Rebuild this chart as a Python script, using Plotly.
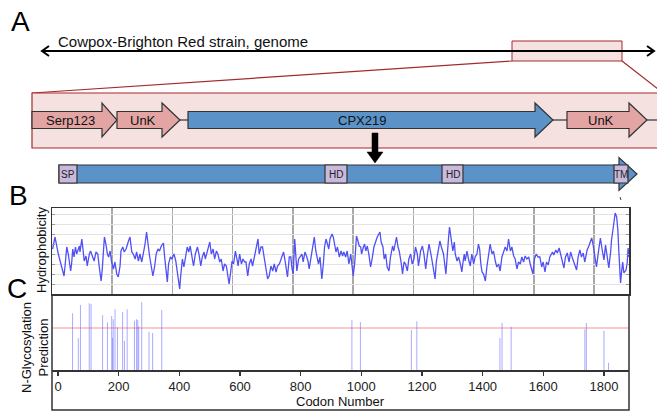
import plotly.graph_objects as go

W, H = 657, 412

# ---------------- Panel B: hydrophobicity profile ----------------
hydro_codon = [
    2, 10, 21, 27, 35, 40, 43, 46, 49, 54, 58, 62, 65, 69, 73, 78, 82, 88, 91, 93,
    99, 102, 107, 113, 117, 124, 128, 135, 140, 146, 152, 157, 163, 167, 171, 174, 179, 184, 188, 193,
    198, 204, 209, 215, 220, 226, 229, 235, 240, 246, 254, 259, 265, 270, 276, 281, 287, 292, 298, 303,
    309, 314,
    319, 324, 330, 335, 341, 346, 352, 357, 363, 370, 374, 380, 383, 387, 393, 398, 405, 411, 416, 424,
    427, 433, 438, 444, 449, 454, 459, 466, 470, 476, 483, 488, 494, 499, 505, 509, 515, 521, 524, 529,
    535, 540, 546, 551, 557, 562, 568, 573, 579, 588, 593, 598, 603, 609, 614, 618, 623, 629, 634, 640,
    644, 650, 655, 661, 666, 672, 677, 684, 688, 694, 699, 705, 710, 716, 721, 727, 733, 738, 744, 749,
    755, 764, 769, 774, 777, 782, 788, 793, 797, 801, 806, 810, 813, 819, 824, 830, 834, 840, 845, 850,
    854, 860, 865, 871, 876, 882, 885, 890, 893, 896, 901, 905, 910, 915, 919, 923, 930, 934, 938, 943,
    948, 954, 960, 965,
    969, 975, 980, 986, 992, 997, 1000, 1005, 1008, 1011, 1016, 1020, 1025, 1028, 1034, 1038, 1042, 1047, 1052, 1058,
    1064, 1069, 1080, 1089, 1093, 1099, 1103, 1108, 1113, 1119, 1124, 1131, 1135, 1144, 1149, 1153, 1160, 1164, 1169, 1174,
    1180, 1185, 1191, 1196, 1202, 1207, 1213, 1217, 1224, 1230, 1235, 1241, 1246, 1252, 1260, 1265, 1272, 1276, 1282, 1288,
    1293,
    1295, 1300, 1308, 1311, 1317, 1320, 1325, 1328, 1331, 1336, 1339, 1345, 1350, 1356, 1361, 1364, 1369, 1372, 1378, 1383,
    1389, 1394, 1400, 1405, 1411, 1416, 1420, 1424, 1428, 1433, 1439, 1444, 1450, 1455, 1461, 1466, 1472, 1477, 1483, 1488,
    1494, 1500, 1505, 1511, 1516, 1522, 1527, 1533, 1538, 1544, 1549, 1555, 1560, 1566, 1571, 1577, 1583, 1588, 1594, 1597,
    1602, 1608, 1614,
    1620, 1626, 1631, 1637, 1642, 1648, 1653, 1662, 1666, 1673, 1678, 1684, 1689, 1694, 1700, 1705, 1711, 1717, 1722, 1727,
    1733, 1742, 1747, 1753, 1758, 1764, 1769, 1777, 1784, 1792, 1797, 1803, 1808, 1814, 1821, 1827, 1833, 1838, 1844, 1849,
    1855, 1858, 1864, 1870, 1875, 1879, 1882, 1886, 1888, 1891, 1895, 1899, 1906, 1910, 1913, 1916,
]
hydro_value = [
    0.5, 1.7, 0.0, -0.8, -1.7, -2.2, -1.3, -0.3, 0.7, 0.0, -0.8, -1.7, -1.0, 0.5, -0.3, 0.7, 0.0, 0.7, 0.8, 0.2,
    1.5, 0.7, -0.7, -0.2, -1.2, 0.0, 0.3, -0.3, -0.7, 0.2, 0.0, -1.3, -2.7, -1.5, 0.7, 1.7, 1.0, 0.0, -0.3, 0.3,
    -0.8, -1.5, -0.8, -2.0, -2.3, -1.2, 0.3, 0.7, 0.2, 0.5, 1.3, 1.7, 0.2, 0.0, -0.5, 0.2, -0.7, 0.0, -0.8, 0.0,
    1.0, 2.2,
    0.7, -0.2, -1.3, -2.2, -1.2, 0.0, 0.5, 0.3, 0.8, 1.1, -0.3, -1.7, -2.8, -1.0, -0.3, -0.5, 0.0, -0.7, -1.7, -3.5,
    -2.3, -0.5, -1.3, 0.0, 0.7, 0.2, 0.8, -0.5, -1.2, 0.0, 0.7, 0.0, -1.2, -0.3, 0.2, -0.5, 0.3, 1.0, 1.2, 0.0,
    0.5, -0.5, 0.3, 0.0, -0.8, -0.5, -1.7, -1.0, -1.2, -3.0, -1.5, -0.7, -1.0, 0.3, -0.5, -1.2, 0.0, -1.0, -0.5, -0.8,
    -0.8, -2.2, -1.0, -0.5, -1.2, -0.3, 0.3, 1.5, 0.0, 0.7, 0.7, -0.5, -1.3, -2.5, -2.2, -1.2, -1.7, -1.0, -1.8, -1.2,
    -1.0, -0.3, 0.2, -0.7, -1.5, -2.3, -0.3, -0.3, -1.5, -2.0, 1.5, -0.3, -1.7, -0.5, -0.3, 0.0, -0.8, 0.2, -0.2, -0.7,
    -1.5, -0.3, 0.7, 1.7, 0.3, -0.5, -1.0, -0.3, -2.0, -2.5, -1.0, 0.7, 1.5, 1.0, 0.5, 1.5, 2.0, 1.7, 1.0, 0.2,
    0.7, -0.3, 0.3, -0.2,
    0.2, -0.3, 0.3, -1.0, 0.0, -1.3, -2.2, -1.0, 0.7, 1.8, 1.3, 0.8, 0.7, 0.0, 0.7, 1.0, 0.3, 0.8, 0.0, -1.3,
    -0.3, 0.7, 1.7, 2.2, 1.2, 0.7, -0.5, 0.0, -1.3, -1.7, -0.3, 0.8, 0.3, 1.7, 0.7, 0.3, -1.0, -2.0, -0.8, -1.0,
    -1.7, -0.5, 0.0, -1.0, -0.5, 0.7, 0.0, -1.2, 0.3, 0.8, 0.0, -1.5, -0.2, 1.0, -0.3, -1.3, -2.5, -0.8, 0.3, 1.3,
    0.7,
    0.5, 0.0, -2.0, -0.3, 1.7, 2.7, 1.7, 1.0, 0.3, 1.2, 0.0, -0.7, -0.3, -1.0, -1.8, -1.0, 0.0, -0.7, 0.3, -0.5,
    -1.2, 0.0, -1.0, -0.3, 0.0, 1.0, 0.5, -1.0, -1.8, -2.0, -2.7, -1.3, 0.0, 1.0, 0.0, 0.3, -0.7, -1.3, -1.0, -1.7,
    -0.3, 0.3, 0.7, 0.3, 1.5, 0.3, 0.7, -0.2, -0.5, -1.5, -0.8, -1.0, -0.3, -0.8, -0.2, -0.5, -0.3, -1.0, -1.7, -2.0,
    -0.5, 0.0, -0.3,
    -0.3, -1.3, -0.8, -1.8, -0.8, -1.1, -0.3, 0.2, -0.1, 0.4, 0.1, 0.6, -0.1, -0.8, -1.4, -0.3, 0.1, -0.8, 0.2, -0.3,
    -0.9, -1.6, -0.3, 0.4, -0.3, 0.1, -0.8, 0.4, 0.9, 1.6, 0.9, -0.1, -1.3, 0.1, 1.6, 0.4, -0.6, 0.9, -0.3, -1.4,
    0.2, 1.4, 2.7, 4.1, 3.7, 2.4, 0.4, -1.6, -2.9, -1.9, -0.8, -1.9, -1.6, -0.9, 0.6, -0.3,
]

# ---------------- Panel C: N-glycosylation prediction ----------------
glyc_codon = [48, 67, 74, 103, 109, 147, 163, 177, 180, 182, 188, 196, 213, 219, 228, 252, 259, 263, 266,
              276, 300, 312, 342, 969, 997, 1165, 1183, 1457, 1464, 1494, 1737, 1742, 1800, 1815]
glyc_score = [0.675, 0.377, 0.774, 0.794, 0.786, 0.651, 0.567, 0.643, 0.385, 0.603, 0.722, 0.508, 0.69, 0.349,
              0.722, 0.587, 0.603, 0.595, 0.52, 0.806, 0.456, 0.44, 0.714, 0.595, 0.571, 0.476, 0.58, 0.381,
              0.56, 0.516, 0.484, 0.56, 0.468, 0.087]
glyc_threshold = 0.5
codon_ticks = [0, 200, 400, 600, 800, 1000, 1200, 1400, 1600, 1800]

# ---------------- Panel A: schematic labels ----------------
genome_label = "Cowpox-Brighton Red strain, genome"
gene_names = ["Serp123", "UnK", "CPX219", "UnK"]
domain_names = ["SP", "HD", "HD", "TM"]
panel_letters = ["A", "B", "C"]

# schematic layout (pixel space of the figure)
gene_left = [32, 117, 188, 567]
gene_right = [117, 180, 553, 647]
gene_fill = ["#e3a5a3", "#e3a5a3", "#5b93c8", "#e3a5a3"]
domain_left = [59, 325, 442, 614]
domain_right = [77, 347, 463, 628]

FONT = "Liberation Sans, Arial, Helvetica, sans-serif"
PINK_BOX = "#f6e1e1"
DARK_RED = "#a52a2a"
EDGE = "#333333"
LAVENDER = "#c9b9dc"
BLUE = "#5b93c8"


def X(p):
    return p / W


def Y(p):
    return 1 - p / H


def path(points, close=True):
    s = "M " + " L ".join(f"{X(a):.5f},{Y(b):.5f}" for a, b in points)
    return s + (" Z" if close else "")


def arrow_pts(x0, x1, yc, bh, hh, hl):
    xh = x1 - hl
    return [(x0, yc - bh), (xh, yc - bh), (xh, yc - hh), (x1, yc), (xh, yc + hh), (xh, yc + bh), (x0, yc + bh)]


shapes = []
annotations = []

# genome overview box + line
shapes.append(dict(type="rect", xref="paper", yref="paper", x0=X(512), x1=X(622), y0=Y(61), y1=Y(41),
                   fillcolor=PINK_BOX, line=dict(color=DARK_RED, width=1), layer="above"))
shapes.append(dict(type="line", xref="paper", yref="paper", x0=X(42), x1=X(654), y0=Y(51), y1=Y(51),
                   line=dict(color="black", width=2), layer="above"))
shapes.append(dict(type="path", xref="paper", yref="paper", path=path([(49, 46), (42, 51), (49, 56)], False),
                   line=dict(color="black", width=2), layer="above"))
shapes.append(dict(type="path", xref="paper", yref="paper", path=path([(647, 46), (654, 51), (647, 56)], False),
                   line=dict(color="black", width=2), layer="above"))
annotations.append(dict(text=genome_label, xref="paper", yref="paper", x=X(56), y=Y(42), xanchor="left",
                        yanchor="middle", showarrow=False, font=dict(family=FONT, size=15, color="#111")))

# zoom lines
shapes.append(dict(type="line", xref="paper", yref="paper", x0=X(512), y0=Y(61), x1=X(32), y1=Y(93),
                   line=dict(color=DARK_RED, width=1.2), layer="above"))
shapes.append(dict(type="line", xref="paper", yref="paper", x0=X(622), y0=Y(61), x1=X(663), y1=Y(93),
                   line=dict(color=DARK_RED, width=1.2), layer="above"))

# zoomed region box
shapes.append(dict(type="rect", xref="paper", yref="paper", x0=X(32), x1=X(664), y0=Y(148), y1=Y(93),
                   fillcolor=PINK_BOX, line=dict(color=DARK_RED, width=1.2), layer="above"))

# connectors between genes
for a, b in [(180, 188), (553, 567), (647, 660)]:
    shapes.append(dict(type="line", xref="paper", yref="paper", x0=X(a), x1=X(b), y0=Y(120), y1=Y(120),
                       line=dict(color=EDGE, width=1.2), layer="above"))

# genes
for name, l, r, f in zip(gene_names, gene_left, gene_right, gene_fill):
    hl = 15 if name == "Serp123" else 18
    shapes.append(dict(type="path", xref="paper", yref="paper", path=path(arrow_pts(l, r, 120, 8.5, 17, hl)),
                       fillcolor=f, line=dict(color=EDGE, width=1.2), layer="above"))
    cx = (l + r - hl) / 2 + (3 if name != "CPX219" else 0)
    annotations.append(dict(text=name, xref="paper", yref="paper", x=X(cx), y=Y(121), xanchor="center",
                            yanchor="middle", showarrow=False, font=dict(family=FONT, size=13, color="#111")))

# down arrow
shapes.append(dict(type="path", xref="paper", yref="paper",
                   path=path([(372, 133), (378, 133), (378, 152), (383, 152), (375, 163), (367, 152), (372, 152)]),
                   fillcolor="black", line=dict(color="black", width=0.5), layer="above"))

# protein bar
shapes.append(dict(type="path", xref="paper", yref="paper", path=path(arrow_pts(59, 637, 174, 9, 16.5, 18)),
                   fillcolor=BLUE, line=dict(color=EDGE, width=1.2), layer="above"))
for name, l, r in zip(domain_names, domain_left, domain_right):
    shapes.append(dict(type="rect", xref="paper", yref="paper", x0=X(l), x1=X(r), y0=Y(183), y1=Y(165),
                       fillcolor=LAVENDER, line=dict(color=EDGE, width=1.2), layer="above"))
    annotations.append(dict(text=name, xref="paper", yref="paper", x=X((l + r) / 2), y=Y(174), xanchor="center",
                            yanchor="middle", showarrow=False, font=dict(family=FONT, size=10, color="#222")))
shapes.append(dict(type="line", xref="paper", yref="paper", x0=X(620), x1=X(621), y0=Y(197), y1=Y(200),
                   line=dict(color="#444", width=1), layer="above"))

# panel letters
for letter, (lx, ly) in zip(panel_letters, [(20, 22), (18, 195), (17, 288)]):
    annotations.append(dict(text=letter, xref="paper", yref="paper", x=X(lx), y=Y(ly), xanchor="center",
                            yanchor="middle", showarrow=False, font=dict(family=FONT, size=28, color="black")))

# axis titles
annotations.append(dict(text="Hydrophobicity", xref="paper", yref="paper", x=X(42), y=Y(250), textangle=-90,
                        xanchor="center", yanchor="middle", showarrow=False,
                        font=dict(family=FONT, size=13, color="#111")))
annotations.append(dict(text="N-Glycosylation<br>Prediction", xref="paper", yref="paper", x=X(35), y=Y(348),
                        textangle=-90, xanchor="center", yanchor="middle", showarrow=False,
                        font=dict(family=FONT, size=13, color="#111")))
annotations.append(dict(text="Codon Number", xref="paper", yref="paper", x=X(340), y=Y(401), xanchor="center",
                        yanchor="middle", showarrow=False, font=dict(family=FONT, size=13, color="#111")))

# panel C frame and threshold
shapes.append(dict(type="rect", xref="paper", yref="paper", x0=X(52), x1=X(629), y0=Y(410), y1=Y(295),
                   line=dict(color=EDGE, width=1.5), layer="above"))
shapes.append(dict(type="line", xref="x2 domain", yref="y2", x0=0, x1=1, y0=glyc_threshold, y1=glyc_threshold,
                   line=dict(color="#ffb4b4", width=1.5), layer="below"))

fig = go.Figure()
fig.add_trace(go.Scatter(x=hydro_codon, y=hydro_value, mode="lines", xaxis="x", yaxis="y",
                         line=dict(color="#5050f5", width=1.3), hoverinfo="skip"))
fig.add_trace(go.Bar(x=glyc_codon, y=glyc_score, xaxis="x2", yaxis="y2", width=3.3,
                     marker=dict(color="rgba(100,100,255,0.55)", line=dict(width=0))))

xdom = [X(52), X(629)]
fig.update_layout(
    width=W, height=H, margin=dict(l=0, r=0, t=0, b=0),
    paper_bgcolor="white", plot_bgcolor="white", showlegend=False,
    xaxis=dict(domain=xdom, range=[0, 1916], tick0=0, dtick=200, showgrid=True, gridcolor="#a9a9a9",
               gridwidth=1.5, showticklabels=False, ticks="", showline=True, mirror=True,
               linecolor=EDGE, linewidth=1.5, zeroline=False),
    yaxis=dict(domain=[Y(294), Y(208)], range=[-4, 4.6], tick0=0, dtick=1, showgrid=True, gridcolor="#e3e3e3",
               gridwidth=1, showticklabels=False, ticks="inside", ticklen=3, tickcolor="#999",
               showline=True, mirror="ticks", linecolor=EDGE, linewidth=1.5, zeroline=False),
    xaxis2=dict(domain=xdom, range=[-19.8, 1882.6], tickvals=codon_ticks, ticks="outside", ticklen=4,
                tickwidth=1.5, tickcolor=EDGE, showline=True, linecolor=EDGE, linewidth=1.5,
                showgrid=False, zeroline=False, anchor="y2", ticklabelstandoff=0,
                tickfont=dict(family=FONT, size=13, color="#222")),
    yaxis2=dict(domain=[Y(370), Y(295)], range=[0, 0.893], visible=False, anchor="x2"),
    shapes=shapes, annotations=annotations,
)

fig.write_html("out.html", config={"displayModeBar": False, "staticPlot": True},
               post_script="document.body.style.margin='0';document.body.style.overflow='hidden';")
